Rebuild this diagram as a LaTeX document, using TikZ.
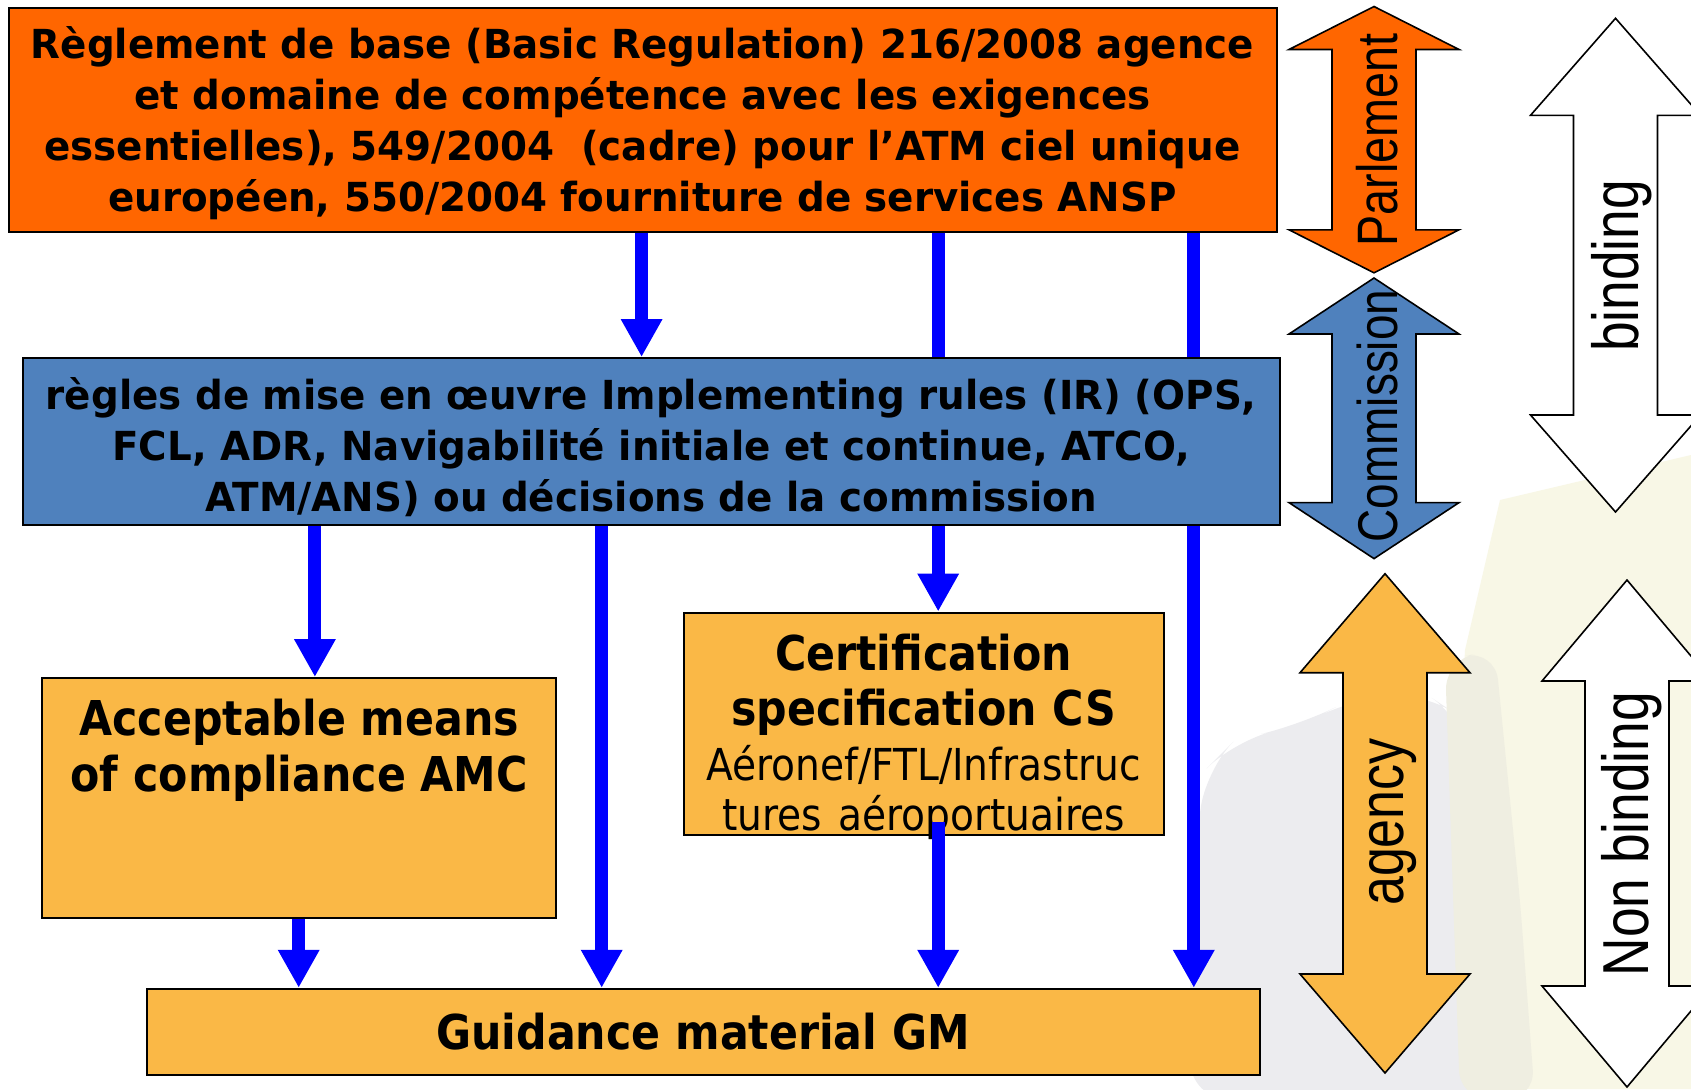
\documentclass[tikz,border=0pt]{standalone}
\usepackage{fontspec}
\setmainfont{DejaVu Sans}
\newfontfamily\boxfont{DejaVu Sans}[FakeStretch=0.97]
\newfontfamily\wideboxfont{DejaVu Sans}[FakeStretch=0.89]
\newfontfamily\sidefont{Liberation Sans}[FakeStretch=0.82]
\usetikzlibrary{arrows.meta,positioning}

\definecolor{eurorange}{HTML}{FF6600}
\definecolor{comblue}{HTML}{4F81BD}
\definecolor{agencyamber}{HTML}{FAB846}
\definecolor{flowblue}{HTML}{0000FF}
\definecolor{cream}{HTML}{F8F7E6}
\definecolor{ghost}{HTML}{ECECEF}
\definecolor{ghostbeige}{HTML}{EFEEE1}

\newcommand{\toptext}{\fontsize{20}{25.5}\selectfont\boxfont\bfseries}
\newcommand{\bigtext}{\fontsize{24}{28}\selectfont\wideboxfont\bfseries}

% vertical two-headed arrow: centre x, top tip, bottom tip, head length, fill
\newcommand{\dblarr}[5]{%
  \draw[bigarrow, fill=#5] (#1,#2) -- ({#1+85},{#2+#4}) -- ({#1+42},{#2+#4})
    -- ({#1+42},{#3-#4}) -- ({#1+85},{#3-#4}) -- (#1,#3) -- ({#1-85},{#3-#4})
    -- ({#1-42},{#3-#4}) -- ({#1-42},{#2+#4}) -- ({#1-85},{#2+#4}) -- cycle;}

\begin{document}
\begin{tikzpicture}[x=0.5pt, y=-0.5pt,
  box/.style={draw=black, line width=1pt, inner sep=0pt, anchor=north west},
  flow/.style={draw=flowblue, line width=6.5pt, -{Triangle[width=19.5pt,length=19pt]}},
  link/.style={draw=flowblue, line width=6.5pt},
  bigarrow/.style={draw=black, line width=0.8pt, line join=miter},
  side/.style={rotate=90, inner sep=0pt}]
\useasboundingbox (0,0) rectangle (1691,1089);
\fill[white] (0,0) rectangle (1691,1089);
\clip (0,0) rectangle (1691,1089);

% faint backdrop
\fill[cream] (1500,500) -- (1691,455) -- (1691,1089) -- (1440,1089) -- (1465,650) -- cycle;
\fill[ghost, rounded corners=20pt] (1205,770) -- (1235,740) -- (1300,725) -- (1350,700) -- (1420,690) -- (1465,720) -- (1480,900) -- (1500,1100) -- (1190,1100) -- (1190,900) -- cycle;
\fill[ghostbeige, rounded corners=15pt] (1445,660) -- (1495,650) -- (1520,900) -- (1535,1100) -- (1460,1100) -- cycle;

% boxes
\node[box, fill=eurorange, minimum width=634pt, minimum height=112pt] (base) at (7.5,6.5) {};
\node[font=\toptext, align=center, inner sep=0pt] (basetext) at ([yshift=-2pt]base.center)
  {Règlement de base (Basic Regulation) 216/2008 agence\\et domaine de compétence avec les exigences\\essentielles), 549/2004\ \ (cadre) pour l’ATM ciel unique\\européen, 550/2004 fourniture de services ANSP};
\node[box, fill=comblue, minimum width=628.7pt, minimum height=83.5pt] (rules) at (21.6,357) {};
\node[font=\toptext, align=center, inner sep=0pt] (rulestext) at ([yshift=-3pt]rules.center)
  {règles de mise en œuvre Implementing rules (IR) (OPS,\\FCL, ADR, Navigabilité initiale et continue, ATCO,\\ATM/ANS) ou décisions de la commission};
\node[box, fill=agencyamber, minimum width=257.2pt, minimum height=119.9pt] (amc) at (41,677) {};
\node[below=11pt of amc.north, inner sep=0pt, align=center, font=\bigtext] (amctext) {Acceptable means\\of compliance AMC};
\node[box, fill=agencyamber, minimum width=240pt, minimum height=111pt] (cs) at (682.6,611.5) {};
\node[below=11pt of cs.north, inner sep=0pt, text width=236pt, align=center, font={\bigtext\baselineskip=27.5pt}] (cstext)
  {Certification\\specification CS\\{\fontsize{22}{27.5}\selectfont\mdseries Aéronef/FTL/Infrastruc\\[-2.5pt]tures aéroportuaires}};
\node[box, fill=agencyamber, minimum width=556.5pt, minimum height=43.1pt, font=\bigtext] (gm) at (145.6,987.8) {Guidance material GM};

% connector columns
\coordinate (xa) at (641.6,0);
\coordinate (xb) at (938.2,0);
\coordinate (xc) at (1193.8,0);
\coordinate (xd) at (314.9,0);
\coordinate (xe) at (601.7,0);
\coordinate (xf) at (298.7,0);
\coordinate (csout) at (938.2,821.7);

\draw[flow] (base.south -| xa) -- (rules.north -| xa);
\draw[link] (base.south -| xb) -- (rules.north -| xb);
\draw[link] (base.south -| xc) -- (rules.north -| xc);
\draw[flow] (rules.south -| xb) -- (cs.north -| xb);
\draw[flow] (rules.south -| xc) -- (gm.north -| xc);
\draw[flow] (rules.south -| xd) -- (amc.north -| xd);
\draw[flow] (rules.south -| xe) -- (gm.north -| xe);
\draw[flow] (amc.south -| xf) -- (gm.north -| xf);
\draw[flow] (csout) -- (gm.north -| xb);

% side scale
\dblarr{1374}{6.5}{272.8}{43}{eurorange}
\dblarr{1374}{278}{558.6}{56}{comblue}
\dblarr{1615.5}{18.3}{512}{97}{white}
\dblarr{1385}{573.7}{1073}{99}{agencyamber}
\dblarr{1627}{580}{1087}{101}{white}

\node[side, font={\fontsize{28.5}{33}\sidefont}] (parl) at (1377.6,140) {Parlement};
\node[side, font={\fontsize{28}{33}\sidefont}] (comm) at (1377.6,416) {Commission};
\node[side, font={\fontsize{32.5}{38}\sidefont}] (bind) at (1622,266) {binding};
\node[side, font={\fontsize{31.7}{37}\sidefont}] (agcy) at (1393,822) {agency};
\node[side, font={\fontsize{32.5}{38}\sidefont}] (nonbind) at (1632,834) {Non binding};
\end{tikzpicture}
\end{document}
